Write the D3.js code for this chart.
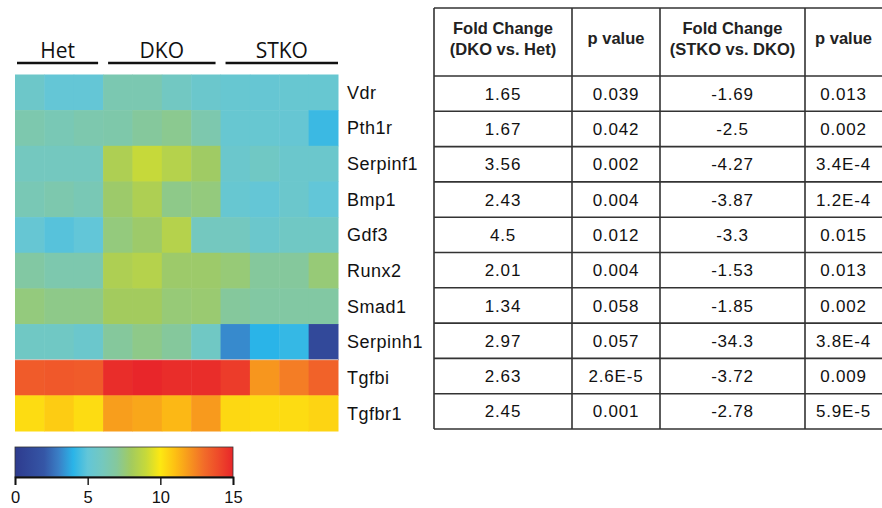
<!DOCTYPE html>
<html>
<head>
<meta charset="utf-8">
<script src="https://cdn.jsdelivr.net/npm/d3@7"></script>
<style>
  body { margin: 0; background: #fff; }
  svg { display: block; font-family: "Liberation Sans", Arial, sans-serif; }
</style>
</head>
<body>
<svg id="chart" width="882" height="508"></svg>
<script>
// ---- DATA ----
const genes = ['Vdr', 'Pth1r', 'Serpinf1', 'Bmp1', 'Gdf3', 'Runx2', 'Smad1', 'Serpinh1', 'Tgfbi', 'Tgfbr1'];
const samples = ['Het1', 'Het2', 'Het3', 'DKO1', 'DKO2', 'DKO3', 'DKO4', 'STKO1', 'STKO2', 'STKO3', 'STKO4'];
const groups = [
  { name: 'Het', first: 'Het1', last: 'Het3' },
  { name: 'DKO', first: 'DKO1', last: 'DKO4' },
  { name: 'STKO', first: 'STKO1', last: 'STKO4' },
];

// expression per gene (rows) x sample (cols)
const expr = [
  [5.6, 5.1, 5.1, 6.4, 6.4, 5.9, 5.5, 5.3, 5.2, 5.3, 5.3],
  [6.5, 6.3, 6.5, 6.6, 7.0, 7.2, 6.5, 5.3, 5.3, 5.2, 4.3],
  [6.0, 6.0, 6.0, 8.3, 9.0, 8.5, 7.9, 5.5, 5.8, 5.5, 5.5],
  [6.3, 6.5, 6.3, 7.8, 8.3, 7.3, 7.5, 5.3, 5.1, 5.5, 5.0],
  [5.2, 4.8, 5.0, 7.5, 7.8, 8.5, 6.0, 6.0, 5.5, 5.8, 5.8],
  [6.8, 6.5, 6.5, 8.3, 8.5, 7.8, 7.8, 7.6, 7.0, 7.0, 7.6],
  [7.5, 7.3, 7.3, 8.0, 8.0, 7.6, 7.7, 7.0, 6.8, 6.8, 6.8],
  [5.8, 5.8, 5.5, 7.0, 7.3, 7.0, 5.8, 3.2, 4.0, 4.2, 1.0],
  [13.5, 13.6, 13.5, 14.8, 15.0, 14.8, 14.8, 14.4, 12.0, 12.6, 13.3],
  [10.3, 10.7, 10.3, 11.8, 11.6, 11.2, 11.9, 10.4, 10.3, 10.3, 10.5],
];

const colorTicks = [0, 5, 10, 15];

// table
const tableHeaders = [
  ['Fold Change', '(DKO vs. Het)'],
  ['p value'],
  ['Fold Change', '(STKO vs. DKO)'],
  ['p value'],
];
const fcDkoHet = ['1.65', '1.67', '3.56', '2.43', '4.5', '2.01', '1.34', '2.97', '2.63', '2.45'];
const pDkoHet = ['0.039', '0.042', '0.002', '0.004', '0.012', '0.004', '0.058', '0.057', '2.6E-5', '0.001'];
const fcStkoDko = ['-1.69', '-2.5', '-4.27', '-3.87', '-3.3', '-1.53', '-1.85', '-34.3', '-3.72', '-2.78'];
const pStkoDko = ['0.013', '0.002', '3.4E-4', '1.2E-4', '0.015', '0.013', '0.002', '3.8E-4', '0.009', '5.9E-5'];

// ---- SCALES ----
const svg = d3.select('#chart');

const colorStops = [0, 2, 3, 4, 5, 6, 7, 8, 9, 10, 11, 12, 13, 14, 15];
const colorRange = ['#2e3b8e', '#3556a6', '#3a7fc6', '#2ab4e8', '#62c6d8', '#74c8bf', '#85c89c',
  '#a3cb5e', '#c6d93a', '#fde812', '#fdc013', '#f7961e', '#f26c29', '#ee4a2a', '#e8262a'];
const color = d3.scaleLinear().domain(colorStops).range(colorRange).clamp(true);

const x = d3.scaleBand().domain(samples).range([15, 338]);
const y = d3.scaleBand().domain(genes).range([74.5, 431]);

// ---- HEATMAP ----
const heat = svg.append('g');
genes.forEach((g, i) => {
  heat.selectAll(null)
    .data(expr[i])
    .join('rect')
    .attr('x', (d, j) => x(samples[j]))
    .attr('y', y(g))
    .attr('width', x.bandwidth() + 0.5)
    .attr('height', y.bandwidth() + 0.5)
    .attr('fill', d => color(d));
});

// thin light separator between Serpinh1 and Tgfbi
svg.append('line')
  .attr('x1', x.range()[0]).attr('x2', x.range()[1])
  .attr('y1', y('Tgfbi')).attr('y2', y('Tgfbi'))
  .attr('stroke', '#d9d9d9').attr('stroke-width', 0.8);

// group labels + bars (small gap where two groups meet)
const grp = svg.append('g');
const [hx0, hx1] = x.range();
groups.forEach(gr => {
  const left = x(gr.first), right = x(gr.last) + x.bandwidth();
  const x0 = left <= hx0 ? left + 2 : left + 5;
  const x1 = right >= hx1 ? right : right - 5;
  grp.append('line')
    .attr('x1', x0).attr('x2', x1)
    .attr('y1', 63).attr('y2', 63)
    .attr('stroke', '#111').attr('stroke-width', 2.6);
  grp.append('text')
    .attr('x', (x0 + x1) / 2).attr('y', 58)
    .attr('text-anchor', 'middle')
    .attr('font-family', '"Open Sans", "Liberation Sans", sans-serif')
    .attr('font-size', 21)
    .attr('fill', '#111')
    .text(gr.name);
});

// gene labels
svg.append('g').selectAll('text')
  .data(genes)
  .join('text')
  .attr('x', 347)
  .attr('y', d => y(d) + y.bandwidth() / 2)
  .attr('dy', '0.36em')
  .attr('font-size', 18)
  .attr('letter-spacing', 0.5)
  .attr('fill', '#111')
  .text(d => d);

// ---- COLOUR BAR ----
const cb = { x0: 15, x1: 233, y0: 447, y1: 477 };
const cbScale = d3.scaleLinear().domain([0, 15]).range([cb.x0, cb.x1]);

const grad = svg.append('defs').append('linearGradient')
  .attr('id', 'cbGrad').attr('x1', '0%').attr('x2', '100%');
grad.selectAll('stop')
  .data(colorStops)
  .join('stop')
  .attr('offset', d => (d / 15 * 100) + '%')
  .attr('stop-color', d => color(d));

svg.append('rect')
  .attr('x', cb.x0).attr('y', cb.y0)
  .attr('width', cb.x1 - cb.x0).attr('height', cb.y1 - cb.y0)
  .attr('fill', 'url(#cbGrad)')
  .attr('stroke', '#333').attr('stroke-width', 0.8);

const cbAxis = svg.append('g')
  .attr('transform', `translate(0,${cb.y1})`)
  .call(d3.axisBottom(cbScale).tickValues(colorTicks).tickSize(8).tickPadding(6));
cbAxis.select('.domain').attr('stroke', '#111').attr('stroke-width', 1.8);
cbAxis.selectAll('.tick line').attr('stroke', '#111').attr('stroke-width', 1.4);
cbAxis.selectAll('.tick text')
  .attr('font-family', '"Liberation Sans", Arial, sans-serif')
  .attr('font-size', 16.5).attr('fill', '#111');

// ---- TABLE ----
const colEdges = [434, 572, 660, 805, 882];
const headTop = 8, headBottom = 76, tableBottom = 429;
const rowY = d3.scaleBand().domain(genes).range([headBottom, tableBottom]);

const tbl = svg.append('g').attr('stroke', '#333').attr('stroke-width', 1.6);
// horizontal rules
[headTop, headBottom].concat(genes.map(g => rowY(g) + rowY.bandwidth())).forEach(yy => {
  tbl.append('line')
    .attr('x1', colEdges[0]).attr('x2', colEdges[colEdges.length - 1])
    .attr('y1', yy).attr('y2', yy);
});
// vertical rules (right edge falls off the picture)
colEdges.slice(0, -1).forEach(xx => {
  tbl.append('line')
    .attr('x1', xx).attr('x2', xx)
    .attr('y1', headTop).attr('y2', tableBottom);
});

const colCenter = i => (colEdges[i] + colEdges[i + 1]) / 2;

// headers
tableHeaders.forEach((lines, i) => {
  const t = svg.append('text')
    .attr('x', colCenter(i))
    .attr('text-anchor', 'middle')
    .attr('font-weight', 'bold')
    .attr('font-size', 16.5)
    .attr('fill', '#222');
  const mid = 38.5;
  lines.forEach((ln, k) => {
    t.append('tspan')
      .attr('x', colCenter(i))
      .attr('y', mid + (k - (lines.length - 1) / 2) * 21)
      .attr('dy', '0.36em')
      .text(ln);
  });
});

// body
const tableCols = [fcDkoHet, pDkoHet, fcStkoDko, pStkoDko];
tableCols.forEach((col, i) => {
  svg.append('g').selectAll('text')
    .data(col)
    .join('text')
    .attr('x', colCenter(i))
    .attr('y', (d, r) => rowY(genes[r]) + rowY.bandwidth() / 2)
    .attr('dy', '0.36em')
    .attr('text-anchor', 'middle')
    .attr('font-size', 17)
    .attr('letter-spacing', 0.8)
    .attr('fill', '#111')
    .text(d => d);
});
</script>
</body>
</html>
